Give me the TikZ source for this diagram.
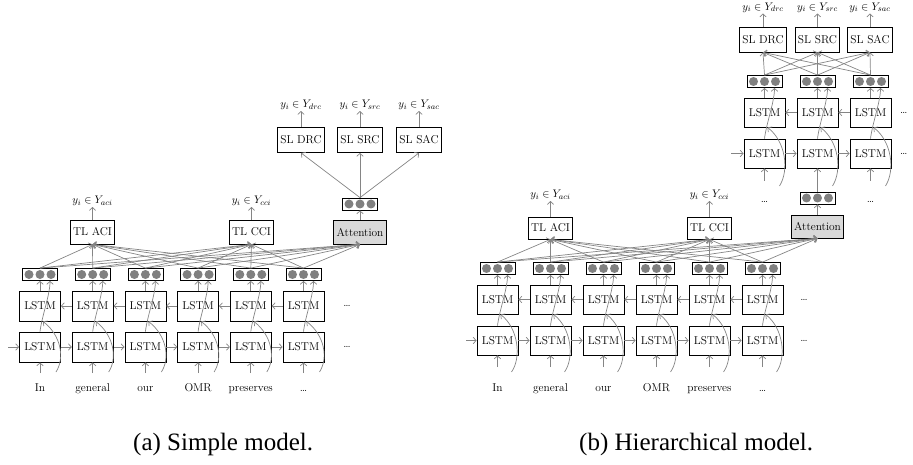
\documentclass[tikz,border=0pt]{standalone}
\usepackage{fontspec}
\newfontfamily\capfont{Liberation Serif}
\usetikzlibrary{arrows.meta}
\definecolor{linegray}{gray}{0.52}
\definecolor{dotgray}{gray}{0.5}
\definecolor{attgray}{gray}{0.85}
% three filled units inside a vector box
\newcommand\dotrow[1]{\foreach \dx in {-11,0,11} {\fill[dotgray] ([xshift=\dx pt]#1.center) circle[radius=4.5pt];}}
\begin{document}
\begin{tikzpicture}[x=1pt,y=-1pt,
  font=\fontsize{11.4}{13}\selectfont,
  conn/.style={draw=linegray, line width=0.7pt, -{Straight Barb[length=3pt,width=6.5pt]}},
  lstm/.style={draw=black, line width=0.8pt, minimum width=41pt, minimum height=30pt, inner sep=0pt},
  unit/.style={draw=black, line width=0.8pt, minimum height=24pt, inner xsep=2.8pt, inner ysep=0pt},
  att/.style={unit, fill=attgray},
  dotbox/.style={draw=black, line width=0.8pt, minimum width=35pt, minimum height=12pt, inner sep=0pt},
  lab/.style={inner sep=1pt},
  word/.style={anchor=base, inner sep=1pt},
  capt/.style={anchor=base west, inner sep=0pt, font=\capfont\fontsize{25}{30}\selectfont},
]
\useasboundingbox (0,0) rectangle (913,465);

% ---------------- (a) simple model ----------------
\foreach \i/\w in {1/In,2/general,3/our,4/OMR,5/preserves,6/\ldots} {
  \pgfmathsetmacro\xx{40+52.7*(\i-1)}
  \node[lstm] (aB\i) at (\xx,347) {LSTM};
  \node[lstm] (aT\i) at (\xx,306) {LSTM};
  \node[dotbox] (aD\i) at (\xx,274.5) {};
  \node[word] (aW\i) at (\xx,391) {\w};
  \coordinate (aI\i) at (\xx,373);
  \coordinate (aC\i) at (\xx+16,372);
}
\foreach \i in {1,...,6} {
  \dotrow{aD\i}
  \draw[conn] (aI\i) -- (aB\i.south);
  \draw[conn] (aT\i.north) -- (aD\i.south);
  \draw[conn] (aB\i.north) .. controls +(2,-16) and +(0,14) .. ([xshift=10pt]aD\i.south);
  \draw[conn] (aC\i) .. controls +(9,-14) and +(18,14) .. ([xshift=3pt]aT\i.south);
}
\foreach \i [evaluate=\i as \j using int(\i+1)] in {1,...,5} {
  \draw[conn] (aB\i.east) -- (aB\j.west);
  \draw[conn] (aT\j.west) -- (aT\i.east);
}
\coordinate (aIn) at (8,347);
\draw[conn] (aIn) -- (aB1.west);
\node (aE1) at (347,306) {\ldots};
\node (aE2) at (347,347) {\ldots};

\node[unit] (aTA) at (92.5,232) {TL ACI};
\node[unit] (aTC) at (251.5,232) {TL CCI};
\node[att] (aAt) at (360,232) {Attention};
\foreach \i in {1,...,6} {
  \foreach \t in {aTA,aTC,aAt} {\draw[conn] (aD\i.north) -- (\t.south);}
}
\node[lab] (aLA) at (92.5,201) {$y_i\in Y_{aci}$};
\node[lab] (aLC) at (251.5,201) {$y_i\in Y_{cci}$};
\draw[conn] (aTA.north) -- (aLA.south);
\draw[conn] (aTC.north) -- (aLC.south);

\node[dotbox] (aAD) at (360,204) {};
\dotrow{aAD}
\draw[conn] (aAt.north) -- (aAD.south);
\node[unit, minimum height=25pt] (aS1) at (301,140) {SL DRC};
\node[unit, minimum height=25pt] (aS2) at (360,140) {SL SRC};
\node[unit, minimum height=25pt] (aS3) at (419,140) {SL SAC};
\node[lab] (aL1) at (301,105) {$y_i\in Y_{drc}$};
\node[lab] (aL2) at (360,105) {$y_i\in Y_{src}$};
\node[lab] (aL3) at (419,105) {$y_i\in Y_{sac}$};
\foreach \i in {1,2,3} {
  \draw[conn] (aAD.north) -- (aS\i.south);
  \draw[conn] (aS\i.north) -- (aL\i.south);
}

% ---------------- (b) hierarchical model ----------------
\foreach \i/\w in {1/In,2/general,3/our,4/OMR,5/preserves,6/\ldots} {
  \pgfmathsetmacro\xx{497.5+53*(\i-1)}
  \node[lstm, minimum height=29pt] (bB\i) at (\xx,340.5) {LSTM};
  \node[lstm, minimum height=29pt] (bT\i) at (\xx,299.5) {LSTM};
  \node[dotbox] (bD\i) at (\xx,268.5) {};
  \node[word] (bW\i) at (\xx,391) {\w};
  \coordinate (bI\i) at (\xx,367);
  \coordinate (bC\i) at (\xx+14,372);
}
\foreach \i in {1,...,6} {
  \dotrow{bD\i}
  \draw[conn] (bI\i) -- (bB\i.south);
  \draw[conn] (bT\i.north) -- (bD\i.south);
  \draw[conn] (bB\i.north) .. controls +(2,-16) and +(0,14) .. ([xshift=10pt]bD\i.south);
  \draw[conn] (bC\i) .. controls +(10,-14) and +(18,14) .. ([xshift=3pt]bT\i.south);
}
\foreach \i [evaluate=\i as \j using int(\i+1)] in {1,...,5} {
  \draw[conn] (bB\i.east) -- (bB\j.west);
  \draw[conn] (bT\j.west) -- (bT\i.east);
}
\coordinate (bIn) at (466,340.5);
\draw[conn] (bIn) -- (bB1.west);
\node (bE1) at (804,300) {\ldots};
\node (bE2) at (804,340.5) {\ldots};

\node[unit, minimum height=22pt] (bTA) at (550.5,228) {TL ACI};
\node[unit, minimum height=22pt] (bTC) at (709.5,228) {TL CCI};
\node[att, minimum height=23pt] (bAt) at (817.5,226.5) {Attention};
\foreach \i in {1,...,6} {
  \foreach \t in {bTA,bTC,bAt} {\draw[conn] (bD\i.north) -- (\t.south);}
}
\node[lab] (bLA) at (550.5,195) {$y_i\in Y_{aci}$};
\node[lab] (bLC) at (709.5,195) {$y_i\in Y_{cci}$};
\draw[conn] (bTA.north) -- (bLA.south);
\draw[conn] (bTC.north) -- (bLC.south);

\node[dotbox] (bAD) at (817.5,198) {};
\dotrow{bAD}
\draw[conn] (bAt.north) -- (bAD.south);

% sentence-level encoder on top of the attention output
\foreach \i in {1,2,3} {
  \pgfmathsetmacro\xx{764.5+53*(\i-1)}
  \node[lstm, minimum height=29pt] (uB\i) at (\xx,153.5) {LSTM};
  \node[lstm, minimum height=29pt] (uT\i) at (\xx,112.5) {LSTM};
  \node[dotbox] (uD\i) at (\xx,81.5) {};
  \coordinate (uC\i) at (\xx+15,186);
}
\foreach \i in {1,2,3} {
  \dotrow{uD\i}
  \draw[conn] (uT\i.north) -- (uD\i.south);
  \draw[conn] (uB\i.north) .. controls +(2,-16) and +(0,14) .. ([xshift=10pt]uD\i.south);
  \draw[conn] (uC\i) .. controls +(10,-16) and +(18,14) .. ([xshift=3pt]uT\i.south);
}
\coordinate (uI1) at (764.5,181);
\coordinate (uI3) at (870.5,181);
\draw[conn] (uI1) -- (uB1.south);
\draw[conn] (bAD.north) -- (uB2.south);
\draw[conn] (uI3) -- (uB3.south);
\node (uE1) at (764.5,202) {\ldots};
\node (uE3) at (870.5,202) {\ldots};
\foreach \i [evaluate=\i as \j using int(\i+1)] in {1,2} {
  \draw[conn] (uB\i.east) -- (uB\j.west);
  \draw[conn] (uT\j.west) -- (uT\i.east);
}
\coordinate (uIn) at (731,153.5);
\draw[conn] (uIn) -- (uB1.west);
\node[anchor=west, inner sep=0pt] (uE4) at (900,112.5) {\ldots};
\node[anchor=west, inner sep=0pt] (uE5) at (900,153.5) {\ldots};

\node[unit, minimum height=25pt] (uS1) at (763,39.5) {SL DRC};
\node[unit, minimum height=25pt] (uS2) at (817.5,39.5) {SL SRC};
\node[unit, minimum height=25pt] (uS3) at (870,39.5) {SL SAC};
\node[lab] (uL1) at (763,7.5) {$y_i\in Y_{drc}$};
\node[lab] (uL2) at (817.5,7.5) {$y_i\in Y_{src}$};
\node[lab] (uL3) at (870,7.5) {$y_i\in Y_{sac}$};
\foreach \i in {1,2,3} {
  \foreach \j in {1,2,3} {\draw[conn] (uD\i.north) -- (uS\j.south);}
  \draw[conn] (uS\i.north) -- (uL\i.south);
}

% ---------------- captions ----------------
\node[capt] (capA) at (133,450) {(a) Simple model.};
\node[capt] (capB) at (579,450) {(b) Hierarchical model.};
\end{tikzpicture}
\end{document}
